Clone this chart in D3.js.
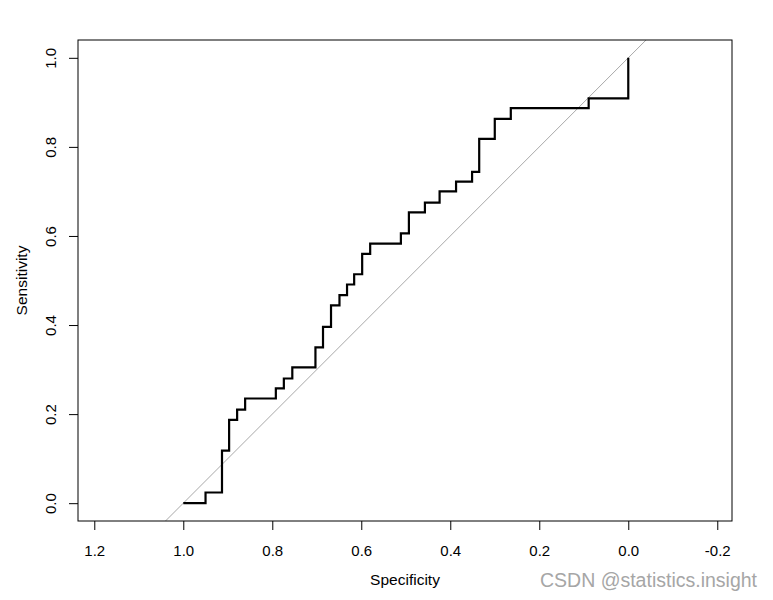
<!DOCTYPE html>
<html>
<head>
<meta charset="utf-8">
<script src="https://cdn.jsdelivr.net/npm/d3@7"></script>
<style>
  html, body { margin: 0; padding: 0; background: #fff; }
  svg { display: block; font-family: "Liberation Sans", Arial, sans-serif; }
</style>
</head>
<body>
<svg id="chart" width="773" height="600"></svg>
<script>
// ROC curve vertices (specificity, sensitivity)
const specificity = [1.000, 0.950, 0.913, 0.897, 0.879, 0.861, 0.792, 0.774, 0.755, 0.703, 0.686, 0.668, 0.649, 0.632, 0.616, 0.598, 0.580, 0.511, 0.493, 0.457, 0.424, 0.387, 0.351, 0.335, 0.300, 0.264, 0.089, 0.000];
const sensitivity = [0.000, 0.024, 0.118, 0.187, 0.210, 0.235, 0.258, 0.280, 0.305, 0.350, 0.396, 0.444, 0.467, 0.491, 0.514, 0.560, 0.583, 0.606, 0.653, 0.675, 0.700, 0.722, 0.744, 0.818, 0.863, 0.887, 0.909, 1.000];
const xTicks = [1.2, 1.0, 0.8, 0.6, 0.4, 0.2, 0.0, -0.2];
const yTicks = [0.0, 0.2, 0.4, 0.6, 0.8, 1.0];
const xTitle = "Specificity";
const yTitle = "Sensitivity";
const watermark = "CSDN @statistics.insight";

const svg = d3.select("#chart");
const pL = 78, pR = 732, pT = 40, pB = 521;

const x = d3.scaleLinear().domain([1.2366, -0.2331]).range([pL, pR]);
const y = d3.scaleLinear().domain([-0.04, 1.04]).range([pB, pT]);

// clip
svg.append("defs").append("clipPath").attr("id", "clip")
  .append("rect").attr("x", pL).attr("y", pT).attr("width", pR - pL).attr("height", pB - pT);

// diagonal reference line sens = 1 - spec
const diag = [[1.09, -0.09], [-0.09, 1.09]];
svg.append("line")
  .attr("clip-path", "url(#clip)")
  .attr("x1", x(diag[0][0])).attr("y1", y(diag[0][1]))
  .attr("x2", x(diag[1][0])).attr("y2", y(diag[1][1]))
  .attr("stroke", "#a8a8a8").attr("stroke-width", 1);

// ROC curve
const pts = specificity.map((s, i) => [s, sensitivity[i]]);
const line = d3.line().x(d => x(d[0])).y(d => y(d[1])).curve(d3.curveStepAfter);
svg.append("path")
  .attr("d", line(pts))
  .attr("fill", "none")
  .attr("stroke", "#000")
  .attr("stroke-width", 2.2)
  .attr("stroke-linejoin", "miter");

// frame
svg.append("rect")
  .attr("x", pL).attr("y", pT).attr("width", pR - pL).attr("height", pB - pT)
  .attr("fill", "none").attr("stroke", "#000").attr("stroke-width", 1);

// x axis
const gx = svg.append("g").attr("transform", `translate(0,${pB})`)
  .call(d3.axisBottom(x).tickValues(xTicks).tickFormat(d3.format(".1f")).tickSize(9).tickPadding(15));
gx.select(".domain").remove();
gx.selectAll(".tick line").attr("stroke", "#000");
gx.selectAll(".tick text").attr("fill", "#000").style("font-size", "15px")
  .style("font-family", "Liberation Sans, Arial, sans-serif")
  .text(d => d3.format(".1f")(d).replace("−", "-"));

// y axis
const gy = svg.append("g").attr("transform", `translate(${pL},0)`)
  .call(d3.axisLeft(y).tickValues(yTicks).tickFormat(d3.format(".1f")).tickSize(9));
gy.select(".domain").remove();
gy.selectAll(".tick line").attr("stroke", "#000");
gy.selectAll(".tick text")
  .attr("fill", "#000").style("font-size", "15px")
  .style("font-family", "Liberation Sans, Arial, sans-serif")
  .attr("x", null).attr("dy", null).attr("y", 0)
  .attr("text-anchor", "middle")
  .attr("transform", "translate(-22,0) rotate(-90)");

// titles
svg.append("text").attr("x", (pL + pR) / 2).attr("y", 585)
  .attr("text-anchor", "middle").style("font-size", "15.5px").attr("fill", "#000").text(xTitle);
svg.append("text")
  .attr("transform", `translate(26.5,${(pT + pB) / 2}) rotate(-90)`)
  .attr("text-anchor", "middle").style("font-size", "15.5px").attr("fill", "#000").text(yTitle);

// watermark
svg.append("text").attr("x", 757).attr("y", 587)
  .attr("text-anchor", "end").style("font-size", "19.5px").attr("fill", "#a6a6a6").text(watermark);
</script>
</body>
</html>
